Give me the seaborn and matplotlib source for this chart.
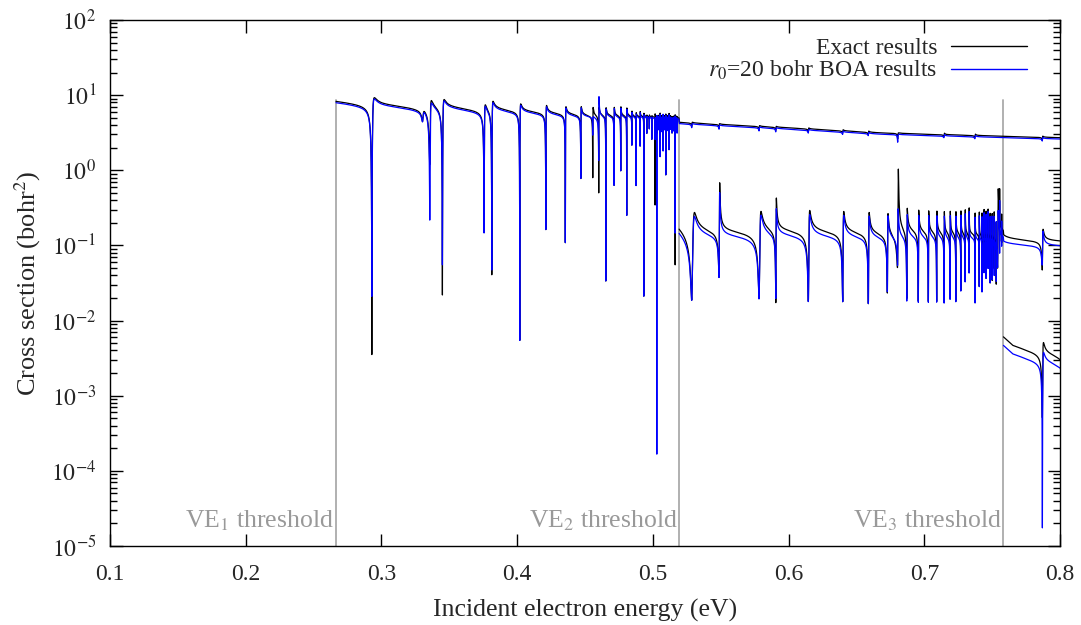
import numpy as np
import matplotlib
matplotlib.use("Agg")
import matplotlib.pyplot as plt
import seaborn as sns

# vibrational excitation thresholds (eV)
thresholds = [0.2665, 0.5193, 0.7583]
threshold_labels = ["VE$_1$ threshold", "VE$_2$ threshold", "VE$_3$ threshold"]

# smooth background of each channel, exact results (bohr^2)
bg1_e = [0.2665, 0.30, 0.35, 0.40, 0.45, 0.5192, 0.5194, 0.60, 0.667, 0.7583, 0.80]
bg1_v = [8.8, 7.6, 6.7, 6.0, 5.3, 4.8, 4.2, 3.6, 3.1, 2.8, 2.68]
bg2_e = [0.5193, 0.53, 0.60, 0.70, 0.7582, 0.7584, 0.80]
bg2_v = [0.22, 0.16, 0.155, 0.14, 0.125, 0.11, 0.104]
bg3_e = [0.7583, 0.765, 0.775, 0.785, 0.80]
bg3_v = [0.0064, 0.0050, 0.0044, 0.0040, 0.0036]
# BOA / exact ratio of the backgrounds
boa_ratio = [0.96, 0.87, 0.77]

# resonances converging to VE2 (channel 1): energy, dip exact, dip BOA
res1_e = [0.2929, 0.3304, 0.3356, 0.3449, 0.3756, 0.3813, 0.4019, 0.4211, 0.4355,
          0.4469, 0.4557, 0.4601, 0.4653, 0.4714, 0.4763, 0.4807, 0.4845, 0.4876,
          0.4906, 0.4933, 0.4955, 0.4974, 0.4992, 0.5016, 0.5029, 0.5040, 0.5053,
          0.5065, 0.5075, 0.5085, 0.5095, 0.5105, 0.5119, 0.5130, 0.5141, 0.5152,
          0.5164, 0.5172, 0.5178]
res1_dip = [0.0037, 5.4, 1.3, 0.021, 0.25, 0.038, 0.0053, 0.16, 0.107,
            0.78, 0.81, 0.49, 0.032, 0.62, 0.98, 0.24, 2.15, 0.6,
            2.1, 0.02, 3.0, 3.5, 2.5, 0.33, 3.0, 3.6, 1.5,
            3.4, 2.5, 3.6, 0.83, 3.5, 1.8, 3.6, 3.0, 3.4,
            0.053, 3.6, 3.5]
res1_dip_boa = [0.022, 5.4, 0.23, 0.053, 0.155, 0.044, 0.0053, 0.16, 0.107,
                0.78, 3.0, 1.5, 0.032, 0.62, 0.98, 0.24, 2.15, 0.6,
                2.1, 0.02, 3.0, 3.5, 2.5, 2.5, 0.00016, 3.4, 1.5,
                3.2, 1.8, 3.4, 0.83, 3.3, 1.8, 3.4, 3.0, 3.2,
                0.14, 3.4, 3.0]
# BOA spike above the background at 0.4601 eV: energy -> (q exact, q BOA)
spikes1 = {0.4601: (0.5, 0.8)}

# resonances converging to VE3 (channel 2)
res2_e = [0.5287, 0.5488, 0.5783, 0.5906, 0.6146, 0.6399, 0.6588, 0.6728, 0.6804,
          0.6871, 0.6956, 0.7030, 0.7091, 0.7146, 0.7190, 0.7232, 0.7269, 0.7301,
          0.7330, 0.7374, 0.7405, 0.7425, 0.7440, 0.7455, 0.7470, 0.7485, 0.7500,
          0.7515, 0.7530, 0.7541, 0.7555, 0.7570, 0.7870]
res2_dip = [0.022, 0.047, 0.022, 0.0175, 0.019, 0.019, 0.018, 0.027, 0.069,
            0.018, 0.0175, 0.0175, 0.0175, 0.017, 0.019, 0.0175, 0.025, 0.034,
            0.047, 0.017, 0.03, 0.025, 0.05, 0.04, 0.06, 0.035, 0.04,
            0.07, 0.05, 0.06, 0.09, 0.08, 0.049]
res2_dip_boa = [0.022, 0.047, 0.022, 0.02, 0.019, 0.019, 0.018, 0.027, 0.069,
                0.018, 0.0175, 0.0175, 0.0175, 0.017, 0.019, 0.0175, 0.025, 0.034,
                0.047, 0.017, 0.03, 0.025, 0.05, 0.04, 0.06, 0.035, 0.04,
                0.05, 0.05, 0.06, 0.07, 0.08, 0.063]
# narrow spiky resonances: energy -> (q exact, q BOA)
spikes2 = {0.5488: (1.6, 1.4), 0.5906: (1.2, 1.0), 0.6804: (2.0, 0.9), 0.7541: (1.4, 0.9)}

# small notches in channel 1 above VE2: energy, dip exact, dip BOA
notch1_e = [0.5287, 0.5488, 0.5783, 0.5906, 0.6146, 0.6399, 0.6588, 0.6804, 0.7146, 0.7374, 0.7870]
notch1_dip = [3.8, 3.65, 3.5, 3.4, 3.3, 3.15, 3.05, 2.6, 2.9, 2.8, 2.6]
notch1_dip_boa = [3.65, 3.5, 3.35, 3.25, 3.15, 3.05, 2.95, 2.35, 2.8, 2.7, 2.5]

# channel 3 resonances
res3_e = [0.7870, 0.8090]
res3_dip = [0.00058, 0.0001]
res3_dip_boa = [0.000019, 0.0001]

# axis ticks
x_ticks = [0.1, 0.2, 0.3, 0.4, 0.5, 0.6, 0.7, 0.8]
x_tick_labels = ["0.1", "0.2", "0.3", "0.4", "0.5", "0.6", "0.7", "0.8"]
y_ticks = [1e-5, 1e-4, 1e-3, 1e-2, 1e-1, 1e0, 1e1, 1e2]
y_tick_labels = ["$10^{-5}$", "$10^{-4}$", "$10^{-3}$", "$10^{-2}$", "$10^{-1}$",
                 "$10^{0}$", "$10^{1}$", "$10^{2}$"]


def background(e, be, bv, scale):
    return 10 ** np.interp(e, be, np.log10(bv)) * scale


def cross_section(e_grid, be, bv, scale, resonances):
    sig = background(e_grid, be, bv, scale)
    for e0, dip, q, w in resonances:
        b0 = background(e0, be, bv, scale)
        d = dip / b0 * (1 + q ** 2)
        eps = (e_grid - (e0 + q * w)) / w
        sig = sig * ((q + eps) ** 2 + d) / (1 + eps ** 2)
    return sig


def grid(e_start, e_end, centres):
    g = np.linspace(e_start, e_end, 40000)
    extra = [c + k * 2e-6 for c in centres for k in range(-3, 4)]
    extra = [x for x in extra if e_start <= x <= e_end]
    return np.unique(np.concatenate([g, extra]))


def ch1(boa):
    dips = res1_dip_boa if boa else res1_dip
    ndips = notch1_dip_boa if boa else notch1_dip
    res = []
    for e0, dp in zip(res1_e, dips):
        b0 = background(e0, bg1_e, bg1_v, 1.0)
        if e0 in spikes1:
            q = spikes1[e0][1 if boa else 0]
        elif dp / b0 > 0.5:
            q = 0.12
        elif e0 > 0.483:
            q = 0.3
        else:
            q = 0.5
        res.append((e0, dp, q, 0.0072 * (thresholds[1] - e0) ** 1.5))
    res += [(e0, dp, 0.05, 0.0002) for e0, dp in zip(notch1_e, ndips)]
    e = grid(thresholds[0], 0.8, res1_e + notch1_e)
    return e, cross_section(e, bg1_e, bg1_v, boa_ratio[0] if boa else 1.0, res)


def ch2(boa):
    dips = res2_dip_boa if boa else res2_dip
    res = []
    for e0, dp in zip(res2_e, dips):
        if e0 in spikes2:
            q = spikes2[e0][1 if boa else 0]
            w = 0.0002
        elif e0 > thresholds[2]:
            q, w = 0.5, 0.0003
        else:
            q, w = 0.9, 0.0095 * (thresholds[2] - e0) ** 1.5
        res.append((e0, dp, q, w))
    e = grid(thresholds[1], 0.8, res2_e)
    return e, cross_section(e, bg2_e, bg2_v, boa_ratio[1] if boa else 1.0, res)


def ch3(boa):
    dips = res3_dip_boa if boa else res3_dip
    res = [(res3_e[0], dips[0], 0.6, 0.0004), (res3_e[1], dips[1], 0.6, 0.0015)]
    e = grid(thresholds[2], 0.8, res3_e)
    return e, cross_section(e, bg3_e, bg3_v, boa_ratio[2] if boa else 1.0, res)


sns.set_theme(style="ticks")
plt.rcParams["font.family"] = ["Liberation Serif", "DejaVu Serif"]
plt.rcParams["mathtext.fontset"] = "stix"

fig = plt.figure(figsize=(10.81, 6.25), dpi=100)
ax = fig.add_axes([0.1018, 0.1264, 0.8788, 0.8416])

# threshold markers
for th, lab in zip(thresholds, threshold_labels):
    ax.plot([th, th], [1e-5, 8.7], color="#aaaaaa", lw=1.3, zorder=1)
    ax.text(th - 0.0012, 1.75e-5, lab, ha="right", va="baseline", color="#999999", fontsize=18.5)

for boa, col in [(False, "black"), (True, "#0000ff")]:
    for f in (ch1, ch2, ch3):
        e, s = f(boa)
        sns.lineplot(x=e, y=s, color=col, lw=0.9, estimator=None, sort=False, ax=ax,
                     zorder=2, legend=False)

ax.set_yscale("log")
ax.set_xlim(0.1, 0.8)
ax.set_ylim(1e-5, 1e2)
ax.set_xticks(x_ticks)
ax.set_xticklabels(x_tick_labels)
ax.set_yticks(y_ticks)
ax.set_yticklabels(y_tick_labels)
ax.yaxis.set_minor_locator(matplotlib.ticker.LogLocator(base=10, subs=np.arange(2, 10), numticks=100))
ax.yaxis.set_minor_formatter(matplotlib.ticker.NullFormatter())
ax.tick_params(which="both", direction="in", top=True, right=True, labelsize=17, width=1, color="black")
ax.tick_params(which="major", length=9)
ax.tick_params(which="minor", length=5)
ax.tick_params(axis="x", pad=13)
ax.tick_params(axis="y", pad=10)
for sp in ax.spines.values():
    sp.set_color("black")
    sp.set_linewidth(1)

ax.set_xlabel("Incident electron energy (eV)", fontsize=18.5, labelpad=10)
ax.set_ylabel("Cross section (bohr$^2$)", fontsize=19, labelpad=6)

h1, = ax.plot([], [], color="black", lw=1)
h2, = ax.plot([], [], color="#0000ff", lw=1)
ax.legend([h1, h2], ["Exact results", "$r_0$=20 bohr BOA results"], loc="upper right",
          bbox_to_anchor=(0.975, 0.985), frameon=False, markerfirst=False, fontsize=17,
          handlelength=3.2, handletextpad=0.6, labelspacing=0.0, borderaxespad=0)

fig.savefig("out.png", dpi=100)
